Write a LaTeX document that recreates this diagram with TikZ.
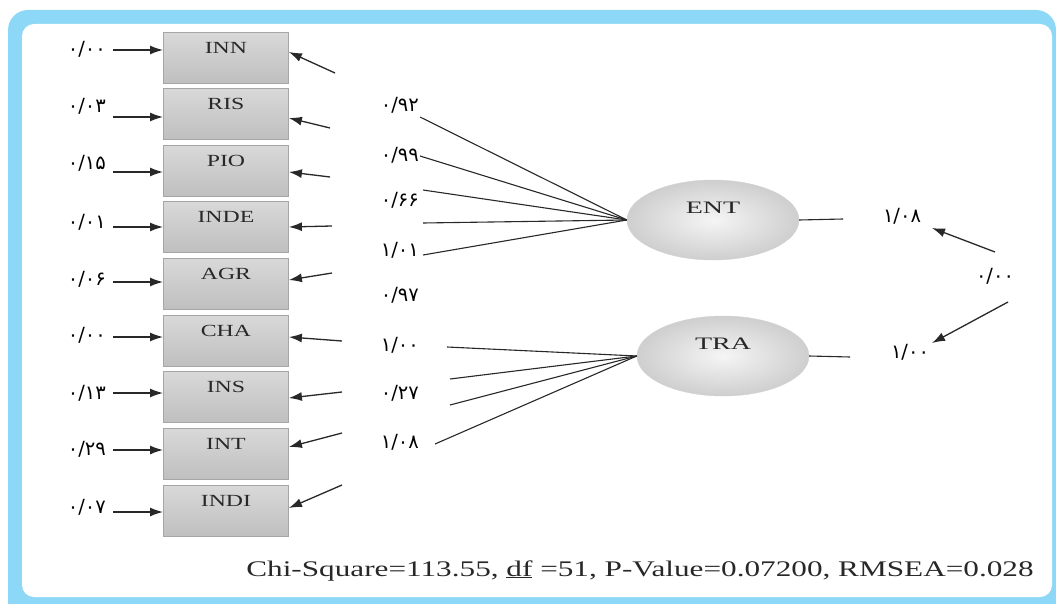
\documentclass[tikz,border=0pt]{standalone}
\usepackage{fontspec}
\setmainfont{Liberation Serif}
\newfontfamily\wideserif[FakeStretch=1.4]{Liberation Serif}
\newfontfamily\ellserif[FakeStretch=1.6]{Liberation Serif}
\newfontfamily\fa[Script=Arabic]{DejaVu Sans}
\usetikzlibrary{arrows.meta,shapes.geometric}
\definecolor{frameblue}{RGB}{141,216,246}
\definecolor{ink}{RGB}{40,40,40}
\begin{document}
\begin{tikzpicture}[x=1pt,y=-1pt,
  varbox/.style={draw=gray!70, line width=0.9pt, top color=gray!30, bottom color=gray!50,
    minimum width=125pt, inner sep=0pt, text height=21pt, text depth=30pt,
    font=\wideserif\fontsize{17}{17}\selectfont, text=ink, anchor=north west},
  latent/.style={ellipse, draw=gray!35, inner color=gray!8, outer color=gray!38,
    minimum width=172pt, minimum height=80pt, inner sep=0pt, text height=10pt, text depth=24pt,
    font=\ellserif\fontsize{17.5}{17.5}\selectfont, text=ink},
  num/.style={font=\fa\fontsize{19.5}{19.5}\selectfont, text=black, inner sep=0pt},
  arr/.style={draw=ink, line width=1.3pt, -{Latex[length=13pt,width=9pt]}},
  ln/.style={draw=ink, line width=1.1pt},
]
\useasboundingbox (0,0) rectangle (1056,604);
% frame
\fill[frameblue, rounded corners=20pt] (8,10) rectangle (1056,630);
\fill[white, rounded corners=12pt] (22,24) rectangle (1052,597);

% observed variables
\node[varbox] (b1) at (163,32) {INN};
\node[varbox] (b2) at (163,88) {RIS};
\node[varbox] (b3) at (163,145) {PIO};
\node[varbox] (b4) at (163,201) {INDE};
\node[varbox] (b5) at (163,258) {AGR};
\node[varbox] (b6) at (163,315) {CHA};
\node[varbox] (b7) at (163,371) {INS};
\node[varbox] (b8) at (163,428) {INT};
\node[varbox] (b9) at (163,485) {INDI};

% error variances
\node[num, anchor=east] (e1) at (106,49) {۰/۰۰};
\node[num, anchor=east] (e2) at (106,106) {۰/۰۳};
\node[num, anchor=east] (e3) at (106,163) {۰/۱۵};
\node[num, anchor=east] (e4) at (106,222) {۰/۰۱};
\node[num, anchor=east] (e5) at (106,279) {۰/۰۶};
\node[num, anchor=east] (e6) at (106,335) {۰/۰۰};
\node[num, anchor=east] (e7) at (106,393) {۰/۱۳};
\node[num, anchor=east] (e8) at (106,449) {۰/۲۹};
\node[num, anchor=east] (e9) at (106,507) {۰/۰۷};

\coordinate (s1) at (113,50);
\coordinate (s2) at (113,117);
\coordinate (s3) at (113,172);
\coordinate (s4) at (113,227);
\coordinate (s5) at (113,282);
\coordinate (s6) at (113,337);
\coordinate (s7) at (113,393);
\coordinate (s8) at (113,450);
\coordinate (s9) at (113,512);
\draw[arr] (s1) -- (s1 -| b1.west);
\draw[arr] (s2) -- (s2 -| b2.west);
\draw[arr] (s3) -- (s3 -| b3.west);
\draw[arr] (s4) -- (s4 -| b4.west);
\draw[arr] (s5) -- (s5 -| b5.west);
\draw[arr] (s6) -- (s6 -| b6.west);
\draw[arr] (s7) -- (s7 -| b7.west);
\draw[arr] (s8) -- (s8 -| b8.west);
\draw[arr] (s9) -- (s9 -| b9.west);

% arrows into boxes from the right
\coordinate (t1) at (335,73);
\coordinate (t2) at (330,128);
\coordinate (t3) at (330,177);
\coordinate (t4) at (332,226);
\coordinate (t5) at (332,273);
\coordinate (t6) at (342,341);
\coordinate (t7) at (342,392);
\coordinate (t8) at (342,433);
\coordinate (t9) at (342,485);
\draw[arr] (t1) -- (b1.east |- 0,52);
\draw[arr] (t2) -- (b2.east |- 0,118);
\draw[arr] (t3) -- (b3.east |- 0,172);
\draw[arr] (t4) -- (b4.east |- 0,227);
\draw[arr] (t5) -- (b5.east |- 0,280);
\draw[arr] (t6) -- (b6.east |- 0,337);
\draw[arr] (t7) -- (b7.east |- 0,398);
\draw[arr] (t8) -- (b8.east |- 0,447);
\draw[arr] (t9) -- (b9.east |- 0,508);

% loadings
\node[num, anchor=east] (l1) at (419,105) {۰/۹۲};
\node[num, anchor=east] (l2) at (419,155) {۰/۹۹};
\node[num, anchor=east] (l3) at (419,200) {۰/۶۶};
\node[num, anchor=east] (l4) at (419,250) {۱/۰۱};
\node[num, anchor=east] (l5) at (419,295) {۰/۹۷};
\node[num, anchor=east] (l6) at (419,345) {۱/۰۰};
\node[num, anchor=east] (l7) at (419,393) {۰/۲۷};
\node[num, anchor=east] (l8) at (419,442) {۱/۰۸};

% latent variables
\node[latent] (ENT) at (713,220) {ENT};
\node[latent] (TRA) at (723,356) {TRA};

\coordinate (u1) at (420,117);
\coordinate (u2) at (420,156);
\coordinate (u3) at (423,190);
\coordinate (u4) at (423,223);
\coordinate (u5) at (423,255);
\foreach \c in {u1,u2,u3,u4,u5} \draw[ln] (ENT.west) -- (\c);
\coordinate (v1) at (447,347);
\coordinate (v2) at (450,379);
\coordinate (v3) at (450,405);
\coordinate (v4) at (435,444);
\foreach \c in {v1,v2,v3,v4} \draw[ln] (TRA.west) -- (\c);

\coordinate (ee) at (843,219);
\draw[ln] (ENT.east) -- (ee);
\coordinate (te) at (850,357);
\draw[ln] (TRA.east) -- (te);

% right side
\node[num] (n1) at (902,216) {۱/۰۸};
\node[num] (n2) at (910,352) {۱/۰۰};
\node[num] (n3) at (995,276) {۰/۰۰};
\coordinate (c1) at (995,252);
\coordinate (h1) at (932,228);
\draw[arr] (c1) -- (h1);
\coordinate (c2) at (1008,302);
\coordinate (h2) at (932,343);
\draw[arr] (c2) -- (h2);

% fit statistics
\node[font=\wideserif\fontsize{22.3}{22.3}\selectfont, text=ink, anchor=base, inner sep=0pt] (fit) at (640,576)
  {Chi-Square=113.55, \underline{df} =51, P-Value=0.07200, RMSEA=0.028};
\end{tikzpicture}
\end{document}
